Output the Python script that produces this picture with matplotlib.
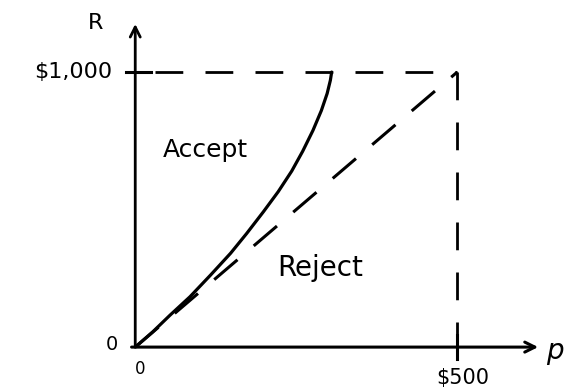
import matplotlib.pyplot as plt

# acceptance boundary (p in $, R in $)
curve_p = [0, 27, 54, 85, 117, 148, 173, 199, 222, 243, 260, 276, 289, 298, 303, 305]
curve_R = [0, 55, 116, 183, 262, 341, 413, 492, 565, 640, 712, 788, 860, 922, 970, 1000]

p_max = 500
R_max = 1000
region_labels = ["Accept", "Reject"]

fig = plt.figure(figsize=(5.68, 3.9), dpi=100)
ax = fig.add_axes([0, 0, 1, 1])
ax.set_xlim(-210, 672)
ax.set_ylim(-156, 1262)
ax.axis("off")

# axes with arrows
ax.annotate("", xy=(630, 0), xytext=(-10, 0),
            arrowprops=dict(arrowstyle="->", lw=2.2, color="black", mutation_scale=18))
ax.annotate("", xy=(0, 1185), xytext=(0, -5),
            arrowprops=dict(arrowstyle="->", lw=2.0, color="black", mutation_scale=18))

# ticks
ax.plot([-15, 25], [R_max, R_max], color="black", lw=2.2)
ax.plot([p_max, p_max], [-45, 45], color="black", lw=2.2)

# dashed box and diagonal
ax.plot([30, p_max], [R_max, R_max], color="black", lw=2, dashes=(10, 8))
ax.plot([p_max, p_max], [R_max, 30], color="black", lw=2, dashes=(10, 8))
ax.plot([0, p_max], [0, R_max], color="black", lw=2.2, dashes=(10, 7))

# boundary curve
ax.plot(curve_p, curve_R, color="black", lw=2.3,
        solid_capstyle="round", solid_joinstyle="round")

ax.text(-62, 1180, "R", fontsize=16, ha="center", va="center")
ax.text(-36, R_max, "$1,000", fontsize=16, ha="right", va="center")
ax.text(-36, 10, "0", fontsize=14, ha="center", va="center")
ax.text(8, -78, "0", fontsize=12, ha="center", va="center")
ax.text(508, -112, "$500", fontsize=15, ha="center", va="center")
ax.text(652, -15, "p", fontsize=20, style="italic", ha="center", va="center")
ax.text(109, 716, region_labels[0], fontsize=18, ha="center", va="center")
ax.text(287, 287, region_labels[1], fontsize=20, ha="center", va="center")

fig.savefig("out.png", dpi=100)
